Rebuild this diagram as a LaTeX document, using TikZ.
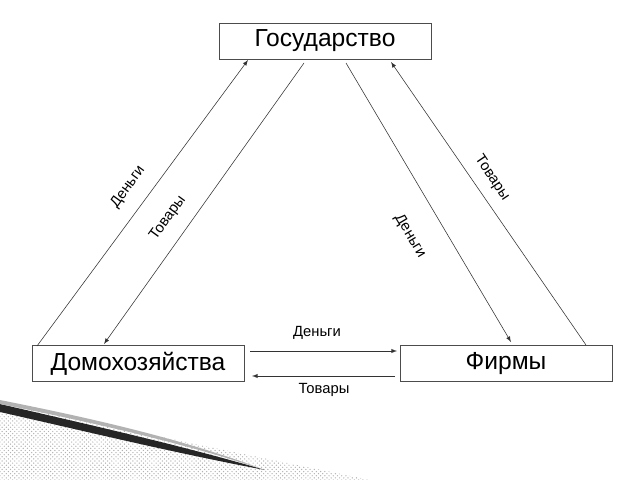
\documentclass[tikz,border=0pt]{standalone}
\usepackage{fontspec}
\setmainfont{Liberation Sans}
\usetikzlibrary{arrows,patterns}

\tikzset{
  block/.style={draw=black!70,line width=0.5pt,fill=white,minimum width=5.3cm,minimum height=0.9cm,inner sep=0pt,font=\fontsize{17.5}{19}\selectfont},
  flow/.style={black!80,line width=0.4pt,-latex},
  lbl/.style={font=\fontsize{10.5}{12}\selectfont,inner sep=1pt}
}

\begin{document}
\begin{tikzpicture}[x=0.025cm,y=-0.025cm]
\useasboundingbox (0,0) rectangle (640,480);
% decoration at the bottom left
\fill[pattern=crosshatch dots,pattern color=gray!60] (0,400) .. controls (120,430) and (250,455) .. (370,480) -- (0,480) -- cycle;
\fill[black!85] (0,404) .. controls (90,425) and (180,445) .. (265,470) .. controls (170,452) and (80,430) .. (0,412) -- cycle;
\fill[gray!60] (0,400) .. controls (90,418) and (180,438) .. (265,470) .. controls (180,442) and (90,422) .. (0,404) -- cycle;
% blocks
\node[block] (gos) at (325,41) {Государство};
\node[block] (dom) at (138,363.5) {Домохозяйства};
\node[block] (firm) at (506,363.5) {Фирмы};
% ends of the connectors
\coordinate (a1) at (37,346);  \coordinate (a2) at (248,60);
\coordinate (b1) at (304,63);  \coordinate (b2) at (104,344);
\coordinate (c1) at (346,63);  \coordinate (c2) at (511,342);
\coordinate (d1) at (586,345); \coordinate (d2) at (391,62);
\coordinate (e1) at (250,351); \coordinate (e2) at (397,351);
\coordinate (f1) at (395,376); \coordinate (f2) at (252,376);
\draw[flow] (a1) -- (a2);
\draw[flow] (b1) -- (b2);
\draw[flow] (c1) -- (c2);
\draw[flow] (d1) -- (d2);
\draw[flow] (e1) -- (e2);
\draw[flow] (f1) -- (f2);
% labels
\node[lbl,rotate=54] (la) at (128,187) {Деньги};
\node[lbl,rotate=54] (lb) at (168,218) {Товары};
\node[lbl,rotate=-59] (lc) at (410,236) {Деньги};
\node[lbl,rotate=-56] (ld) at (492,178) {Товары};
\node[lbl] (le) at (317,333) {Деньги};
\node[lbl] (lf) at (324,390) {Товары};
\end{tikzpicture}
\end{document}
